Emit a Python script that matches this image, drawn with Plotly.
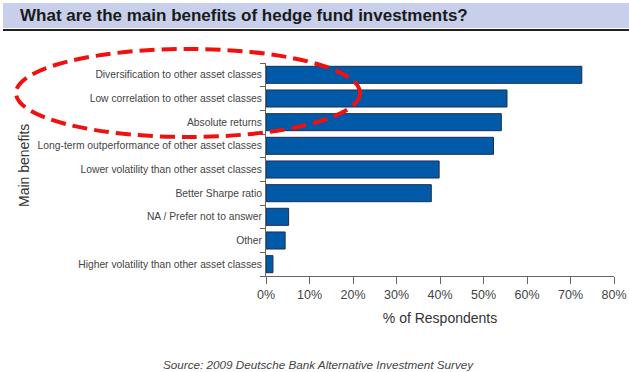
import plotly.graph_objects as go

categories = [
    "Diversification to other asset classes",
    "Low correlation to other asset classes",
    "Absolute returns",
    "Long-term outperformance of other asset classes",
    "Lower volatility than other asset classes",
    "Better Sharpe ratio",
    "NA / Prefer not to answer",
    "Other",
    "Higher volatility than other asset classes",
]
values = [72.6, 55.4, 54.1, 52.3, 39.8, 38.0, 5.2, 4.4, 1.6]
x_ticks = [0, 10, 20, 30, 40, 50, 60, 70, 80]
x_tick_labels = [f"{t}%" for t in x_ticks]

W, H = 629, 372
L, R, T, B = 266, 15, 63, 96
pw, ph = W - L - R, H - T - B

def px(x):
    return (x - L) / pw

def py(y):
    return (H - B - y) / ph

fig = go.Figure(go.Bar(
    y=categories, x=values, orientation="h",
    marker=dict(color="#005aa8", line=dict(color="#1c2d55", width=1)),
    width=0.72,
))

fig.update_layout(
    width=W, height=H,
    margin=dict(l=L, r=R, t=T, b=B, autoexpand=False),
    paper_bgcolor="white", plot_bgcolor="white",
    font=dict(family="Liberation Sans, Arial", color="#333333", size=11),
    showlegend=False,
    xaxis=dict(
        range=[0, 80], tickvals=x_ticks, ticktext=x_tick_labels, automargin=False,
        showgrid=False, zeroline=False, showline=True, linecolor="#666666", linewidth=1,
        ticks="outside", ticklen=7, tickcolor="#666666",
        tickfont=dict(size=12.5, color="#444444"),
        title=dict(text="% of Respondents", font=dict(size=14, color="#333333"), standoff=12),
    ),
    yaxis=dict(
        categoryorder="array", categoryarray=categories[::-1], automargin=False,
        range=[-0.5, len(categories) - 0.5],
        showgrid=False, zeroline=False, showline=True, linecolor="#666666", linewidth=1,
        ticks="outside", ticklen=5, tickcolor="#666666", tickson="boundaries",
        tickfont=dict(size=10.3, color="#444444"),
        ticklabelstandoff=1,
    ),
)

shapes = [
    dict(type="rect", xref="paper", yref="paper", x0=px(3), x1=px(629), y0=py(28), y1=py(3),
         fillcolor="#c7cfea", line=dict(width=0), layer="below"),
    dict(type="line", xref="paper", yref="paper", x0=px(3), x1=px(629), y0=py(30), y1=py(30),
         line=dict(color="#222222", width=2)),
    dict(type="circle", xref="paper", yref="paper", x0=px(16), x1=px(360), y0=py(137), y1=py(49),
         line=dict(color="#f01010", width=4, dash="15px,7px"), layer="above"),
]
fig.update_layout(shapes=shapes)

fig.add_annotation(text="<b>What are the main benefits of hedge fund investments?</b>",
                   xref="paper", yref="paper", x=px(18), y=py(16), xanchor="left", yanchor="middle",
                   showarrow=False, font=dict(size=17, color="#1a1a1a", family="Liberation Sans"))
fig.add_annotation(text="Main benefits", xref="paper", yref="paper", x=px(24), y=py(166),
                   textangle=-90, showarrow=False, xanchor="center", yanchor="middle",
                   font=dict(size=14, color="#333333"))
fig.add_annotation(text="<i>Source: 2009 Deutsche Bank Alternative Investment Survey</i>",
                   xref="paper", yref="paper", x=px(318), y=py(364), xanchor="center", yanchor="middle",
                   showarrow=False, font=dict(size=11.7, color="#444444"))

fig.write_html("out.html", config={"displayModeBar": False},
               post_script="document.body.style.margin='0';document.body.style.overflow='hidden';")
